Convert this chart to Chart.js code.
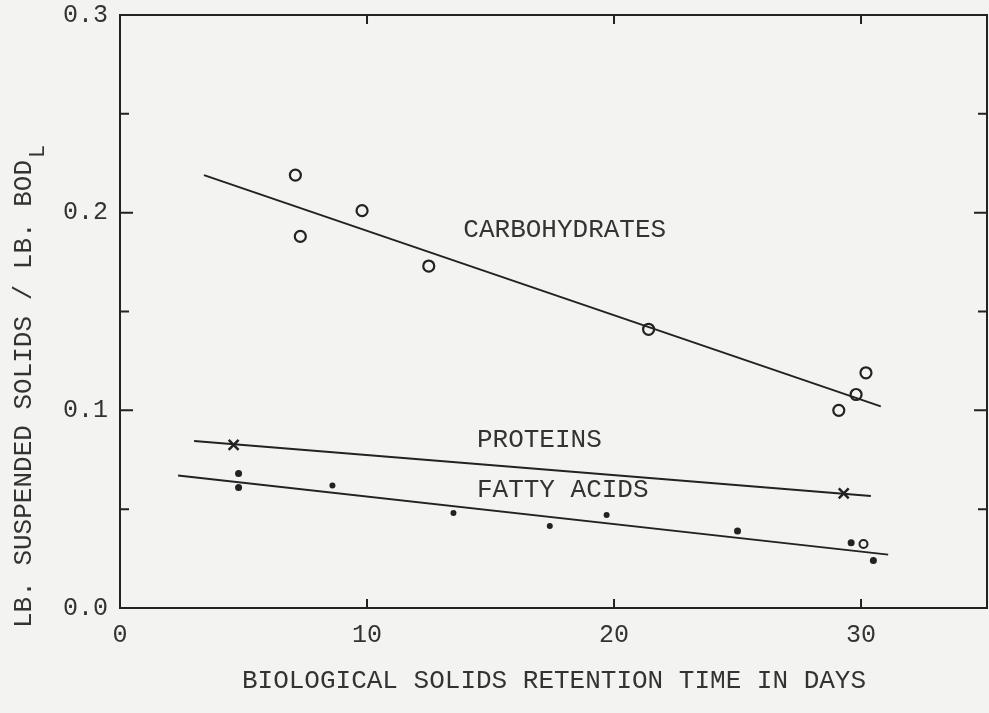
<!DOCTYPE html>
<html lang="en">
<head>
    <meta charset="UTF-8">
    <title>Suspended solids vs retention time</title>
    <script src="https://cdn.jsdelivr.net/npm/chart.js"></script>
    <style>
        body { margin: 0; background: #f3f3f1; }
        #wrap { width: 989px; height: 713px; }
    </style>
</head>
<body>
    <div id="wrap"><canvas id="chart" width="989" height="713"></canvas></div>

    <script>
        // tick values
        const xTicks = [0, 10, 20, 30];
        const yTicks = [0.0, 0.1, 0.2, 0.3];
        const yMinorTicks = [0.05, 0.1, 0.15, 0.2, 0.25];

        // measured points
        const carbX = [7.1, 7.3, 9.8, 12.5, 21.4, 29.1, 29.8, 30.2];
        const carbY = [0.219, 0.188, 0.201, 0.173, 0.141, 0.100, 0.108, 0.119];
        const protX = [4.6, 29.3];
        const protY = [0.0825, 0.058];
        const fatX = [4.8, 4.8, 8.6, 13.5, 17.4, 19.7, 25.0, 29.6, 30.1, 30.5];
        const fatY = [0.068, 0.061, 0.062, 0.048, 0.0415, 0.047, 0.039, 0.033, 0.0324, 0.024];

        // fitted lines (end points)
        const carbLineX = [3.4, 30.8];
        const carbLineY = [0.219, 0.102];
        const protLineX = [3.0, 30.4];
        const protLineY = [0.0845, 0.0567];
        const fatLineX = [2.35, 31.1];
        const fatLineY = [0.067, 0.027];

        // curve labels
        const labelText = ['CARBOHYDRATES', 'PROTEINS', 'FATTY ACIDS'];
        const labelX = [13.9, 14.45, 14.45];
        const labelY = [0.191, 0.085, 0.0597];

        const xTitle = 'BIOLOGICAL SOLIDS RETENTION TIME IN DAYS';
        const yTitle = 'LB. SUSPENDED SOLIDS / LB. BOD';
        const yTitleSub = 'L';

        const ink = '#222222';
        const textInk = '#333333';
        const mono = '"Liberation Mono", "DejaVu Sans Mono", monospace';

        const pts = (xs, ys) => xs.map((x, i) => ({ x: x, y: ys[i] }));

        // paper background, frame, inward ticks, texts
        const paperPlugin = {
            id: 'paper',
            beforeDraw(chart) {
                const ctx = chart.ctx;
                ctx.save();
                ctx.fillStyle = '#f3f3f1';
                ctx.fillRect(0, 0, chart.width, chart.height);
                ctx.restore();
            },
            afterDraw(chart) {
                const ctx = chart.ctx;
                const a = chart.chartArea;
                const xs = chart.scales.x, ys = chart.scales.y;
                ctx.save();
                ctx.strokeStyle = ink;
                ctx.lineWidth = 2;
                // top and right frame
                ctx.beginPath();
                ctx.moveTo(a.left, a.top);
                ctx.lineTo(a.right, a.top);
                ctx.lineTo(a.right, a.bottom);
                ctx.stroke();

                // y ticks, inward on both sides
                yMinorTicks.forEach(v => {
                    const py = ys.getPixelForValue(v);
                    const major = Math.abs(v * 10 - Math.round(v * 10)) < 1e-6;
                    const len = major ? 13 : 9;
                    ctx.beginPath();
                    ctx.moveTo(a.left, py);
                    ctx.lineTo(a.left + len, py);
                    ctx.moveTo(a.right, py);
                    ctx.lineTo(a.right - len, py);
                    ctx.stroke();
                });
                // x ticks, inward top and bottom
                xTicks.slice(1).forEach(v => {
                    const px = xs.getPixelForValue(v);
                    ctx.beginPath();
                    ctx.moveTo(px, a.bottom);
                    ctx.lineTo(px, a.bottom - 9);
                    ctx.moveTo(px, a.top);
                    ctx.lineTo(px, a.top + 9);
                    ctx.stroke();
                });

                // curve labels
                ctx.fillStyle = textInk;
                ctx.font = '26px ' + mono;
                ctx.textAlign = 'left';
                ctx.textBaseline = 'middle';
                labelText.forEach((t, i) => {
                    ctx.fillText(t, xs.getPixelForValue(labelX[i]), ys.getPixelForValue(labelY[i]));
                });

                // x title
                ctx.textAlign = 'center';
                ctx.fillText(xTitle, 554, 681);

                // y title with subscript
                ctx.translate(24, 0);
                ctx.rotate(-Math.PI / 2);
                ctx.textAlign = 'left';
                const w = ctx.measureText(yTitle).width;
                const start = -628;
                ctx.fillText(yTitle, start, 0);
                ctx.font = '22px ' + mono;
                ctx.fillText(yTitleSub, start + w + 2, 14);
                ctx.restore();
            }
        };

        new Chart(document.getElementById('chart'), {
            type: 'scatter',
            data: {
                datasets: [
                    {
                        label: 'Carbohydrates',
                        data: pts(carbX, carbY),
                        pointStyle: 'circle',
                        pointRadius: 5.5,
                        pointBorderWidth: 2.2,
                        pointBorderColor: ink,
                        pointBackgroundColor: 'rgba(0,0,0,0)'
                    },
                    {
                        label: 'Proteins',
                        data: pts(protX, protY),
                        pointStyle: 'crossRot',
                        pointRadius: 7,
                        pointBorderWidth: 2.5,
                        pointBorderColor: ink
                    },
                    {
                        label: 'Fatty acids',
                        data: pts(fatX, fatY),
                        pointStyle: 'circle',
                        pointRadius: [3.5, 3.5, 3, 3, 3, 3, 3.5, 3.5, 4, 3.5],
                        pointBorderWidth: [0, 0, 0, 0, 0, 0, 0, 0, 2, 0],
                        pointBorderColor: ink,
                        pointBackgroundColor: fatX.map((_, i) => i === 8 ? 'rgba(0,0,0,0)' : ink)
                    },
                    {
                        label: 'Carbohydrates fit',
                        data: pts(carbLineX, carbLineY),
                        showLine: true,
                        borderColor: ink,
                        borderWidth: 2,
                        pointRadius: 0
                    },
                    {
                        label: 'Proteins fit',
                        data: pts(protLineX, protLineY),
                        showLine: true,
                        borderColor: ink,
                        borderWidth: 2,
                        pointRadius: 0
                    },
                    {
                        label: 'Fatty acids fit',
                        data: pts(fatLineX, fatLineY),
                        showLine: true,
                        borderColor: ink,
                        borderWidth: 2,
                        pointRadius: 0
                    }
                ]
            },
            options: {
                responsive: false,
                animation: false,
                layout: { autoPadding: false, padding: { top: 15, right: 2, left: 0, bottom: 0 } },
                plugins: {
                    legend: { display: false },
                    tooltip: { enabled: false }
                },
                scales: {
                    x: {
                        type: 'linear',
                        min: 0,
                        max: 35.1,
                        afterBuildTicks: s => { s.ticks = xTicks.map(v => ({ value: v })); },
                        afterFit: s => {
                            s.height = 105;
                            s.paddingLeft = 0; s.paddingRight = 0;
                        },
                        grid: { display: false, drawTicks: false },
                        border: { display: true, color: ink, width: 2 },
                        ticks: {
                            padding: 12,
                            color: textInk,
                            font: { family: mono, size: 25 },
                            callback: v => String(v)
                        }
                    },
                    y: {
                        type: 'linear',
                        min: 0,
                        max: 0.3,
                        afterBuildTicks: s => { s.ticks = yTicks.map(v => ({ value: v })); },
                        afterFit: s => {
                            s.width = 120;
                            s.paddingTop = 0; s.paddingBottom = 0;
                        },
                        grid: { display: false, drawTicks: false },
                        border: { display: true, color: ink, width: 2 },
                        ticks: {
                            padding: 12,
                            color: textInk,
                            font: { family: mono, size: 25 },
                            callback: v => v.toFixed(1)
                        }
                    }
                }
            },
            plugins: [paperPlugin]
        });
    </script>
</body>
</html>
